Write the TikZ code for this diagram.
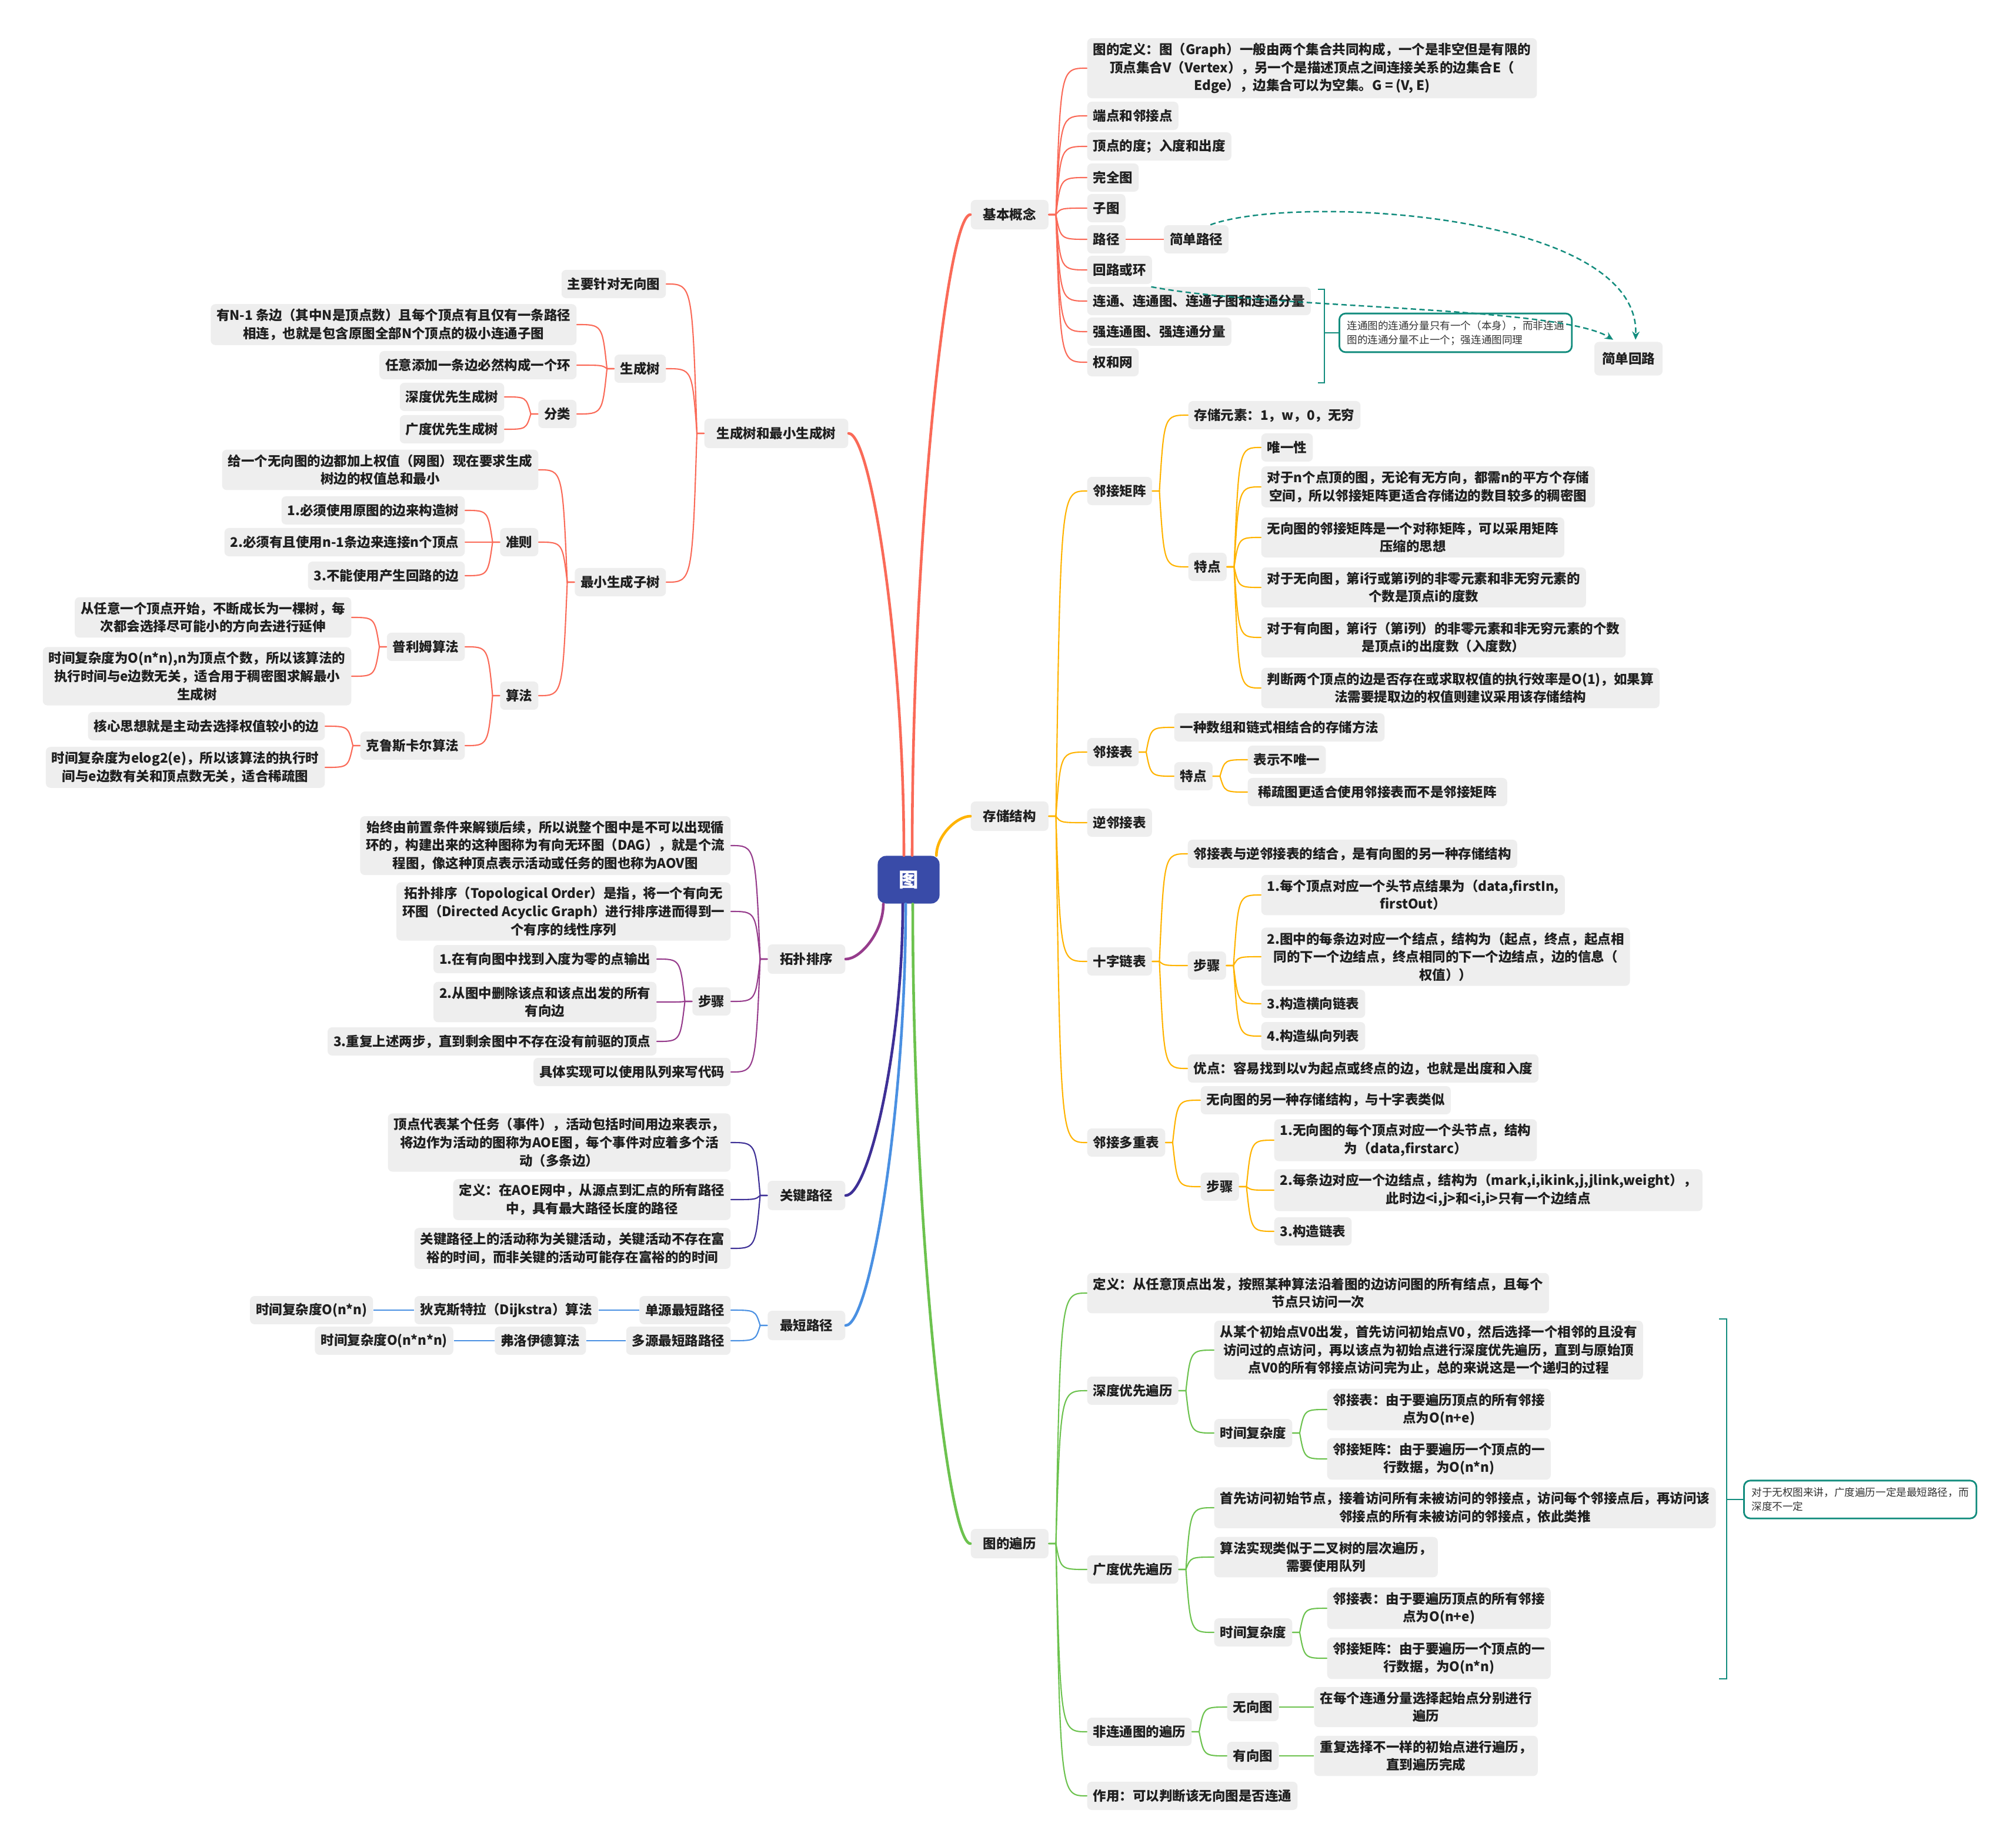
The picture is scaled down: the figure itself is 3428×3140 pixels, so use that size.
\documentclass[tikz,border=0pt]{standalone}
\usepackage{fontspec}
\setmainfont{Noto Sans CJK SC}
\usepackage{xcolor}
\usetikzlibrary{arrows.meta, positioning, calc}

\definecolor{cRed}{RGB}{250,106,88}
\definecolor{cYel}{RGB}{255,179,0}
\definecolor{cGrn}{RGB}{108,194,78}
\definecolor{cPur}{RGB}{150,60,140}
\definecolor{cInd}{RGB}{62,48,150}
\definecolor{cBlu}{RGB}{74,144,226}
\definecolor{cHub}{RGB}{57,75,168}
\definecolor{cTeal}{RGB}{18,140,125}
\definecolor{nodegray}{RGB}{238,238,238}

\tikzset{
  topic/.style  = {rectangle, rounded corners=2.2pt, fill=nodegray,
                   inner xsep=0.1cm, inner ysep=0.08cm, minimum height=0.48cm,
                   align=center, text=black!88,
                   font=\bfseries\fontsize{6.4}{8.7}\selectfont},
  mtopic/.style = {topic, inner xsep=0.21cm, minimum height=0.5cm},
  rt/.style     = {topic, anchor=west},
  lt/.style     = {topic, anchor=east},
  hub/.style    = {rectangle, rounded corners=4pt, fill=cHub, text=white,
                   minimum width=1.05cm, minimum height=0.81cm,
                   font=\bfseries\fontsize{9.5}{11}\selectfont},
  note/.style   = {rectangle, rounded corners=3pt, draw=cTeal, line width=0.8pt,
                   fill=white, align=left, inner xsep=0.13cm, inner ysep=0.12cm,
                   text=black!80, font=\fontsize{5}{6.8}\selectfont},
}

\begin{document}
\begin{tikzpicture}[
  x=0.01cm, y=-0.01cm,
  rlink/.style={line width=0.6pt, line cap=round,
    to path={-- ++(12,0) coordinate (tq)
      .. controls ($(tq |- \tikztotarget)+(8,0)$) .. (\tikztotarget)}},
  llink/.style={line width=0.6pt, line cap=round,
    to path={-- ++(-12,0) coordinate (tq)
      .. controls ($(tq |- \tikztotarget)+(-8,0)$) .. (\tikztotarget)}},
  trunk/.style={line width=1.3pt, line cap=round,
    to path={.. controls ($(\tikztostart)!0.5!(\tikztostart |- \tikztotarget)$)
      and ($(\tikztostart |- \tikztotarget)!0.6!(\tikztotarget)$) .. (\tikztotarget)}},
  lnk/.style={line width=0.6pt},
  dashln/.style={cTeal, line width=0.7pt, dash pattern=on 2.6pt off 1.6pt,
                 -{Stealth[length=4pt, width=3.6pt]}},
]
  \useasboundingbox (0,0) rectangle (3428,3140);

  % centre
  \node[hub] (tu) at (1545,1496) {图};
  \coordinate (tA) at ($(tu.north)+(6,0)$);
  \coordinate (tB) at ($(tu.north)+(-8,0)$);
  \coordinate (tC) at ($(tu.north east)+(-6,0)$);
  \coordinate (tD) at ($(tu.south)+(7,0)$);
  \coordinate (tE) at ($(tu.south)+(-5,0)$);
  \coordinate (tF) at ($(tu.south)+(-10,0)$);
  \coordinate (tG) at ($(tu.south)+(-43,0)$);

  % basic concepts
  \node[mtopic, anchor=west] (jb) at (1650,365) {基本概念};
  \node[rt] (jb1) at (1848,116) {图的定义：图（Graph）一般由两个集合共同构成，一个是非空但是有限的\\顶点集合V（Vertex），另一个是描述顶点之间连接关系的边集合E（\\Edge），边集合可以为空集。G = (V, E)};
  \node[rt] (jb2) at (1848,197) {端点和邻接点};
  \node[rt] (jb3) at (1848,249) {顶点的度；入度和出度};
  \node[rt] (jb4) at (1848,302) {完全图};
  \node[rt] (jb5) at (1848,354) {子图};
  \node[rt] (jb6) at (1848,407) {路径};
  \node[topic, right=0.64cm of jb6] (jb6a) {简单路径};
  \node[rt] (jb7) at (1848,459) {回路或环};
  \node[rt] (jb8) at (1848,512) {连通、连通图、连通子图和连通分量};
  \node[rt] (jb9) at (1848,564) {强连通图、强连通分量};
  \node[rt] (jb10) at (1848,616) {权和网};
  \node[mtopic, inner xsep=0.13cm, minimum height=0.57cm] (jbhl) at (2769,610) {简单回路};
  \node[note, anchor=west] (nt1) at (2276,566) {连通图的连通分量只有一个（本身），而非连通\\图的连通分量不止一个；强连通图同理};

  % storage
  \node[mtopic, anchor=west] (cc) at (1650,1388) {存储结构};
  \node[rt] (cc1) at (1848,835) {邻接矩阵};
  \node[rt] (cc11) at (2020,706) {存储元素：1，w，0，无穷};
  \node[rt] (cc12) at (2020,964) {特点};
  \node[rt] (cc121) at (2144,761) {唯一性};
  \node[rt] (cc122) at (2144,828) {对于n个点顶的图，无论有无方向，都需n的平方个存储\\空间，所以邻接矩阵更适合存储边的数目较多的稠密图};
  \node[rt] (cc123) at (2144,914) {无向图的邻接矩阵是一个对称矩阵，可以采用矩阵\\压缩的思想};
  \node[rt] (cc124) at (2144,999) {对于无向图，第i行或第i列的非零元素和非无穷元素的\\个数是顶点i的度数};
  \node[rt] (cc125) at (2144,1084) {对于有向图，第i行（第i列）的非零元素和非无穷元素的个数\\是顶点i的出度数（入度数）};
  \node[rt] (cc126) at (2144,1170) {判断两个顶点的边是否存在或求取权值的执行效率是O(1)，如果算\\法需要提取边的权值则建议采用该存储结构};
  \node[rt] (cc2) at (1848,1279) {邻接表};
  \node[rt] (cc21) at (1996,1237) {一种数组和链式相结合的存储方法};
  \node[rt] (cc22) at (1996,1320) {特点};
  \node[rt] (cc221) at (2121,1292) {表示不唯一};
  \node[rt, inner xsep=0.18cm] (cc222) at (2121,1347) {稀疏图更适合使用邻接表而不是邻接矩阵};
  \node[rt] (cc3) at (1848,1399) {逆邻接表};
  \node[rt] (cc4) at (1848,1635) {十字链表};
  \node[rt] (cc41) at (2019,1452) {邻接表与逆邻接表的结合，是有向图的另一种存储结构};
  \node[rt] (cc42) at (2019,1642) {步骤};
  \node[rt] (cc421) at (2144,1522) {1.每个顶点对应一个头节点结果为（data,firstIn,\\firstOut）};
  \node[rt] (cc422) at (2144,1627) {2.图中的每条边对应一个结点，结构为（起点，终点，起点相\\同的下一个边结点，终点相同的下一个边结点，边的信息（\\权值））};
  \node[rt] (cc423) at (2144,1707) {3.构造横向链表};
  \node[rt] (cc424) at (2144,1762) {4.构造纵向列表};
  \node[rt] (cc43) at (2019,1817) {优点：容易找到以v为起点或终点的边，也就是出度和入度};
  \node[rt] (cc5) at (1848,1943) {邻接多重表};
  \node[rt] (cc51) at (2041,1871) {无向图的另一种存储结构，与十字表类似};
  \node[rt] (cc52) at (2041,2018) {步骤};
  \node[rt] (cc521) at (2166,1939) {1.无向图的每个顶点对应一个头节点，结构\\为（data,firstarc）};
  \node[rt] (cc522) at (2166,2024) {2.每条边对应一个边结点，结构为（mark,i,ikink,j,jlink,weight），\\此时边<i,j>和<i,i>只有一个边结点};
  \node[rt] (cc523) at (2166,2094) {3.构造链表};

  % traversal
  \node[mtopic, anchor=west] (bl) at (1650,2625) {图的遍历};
  \node[rt] (bl1) at (1848,2199) {定义：从任意顶点出发，按照某种算法沿着图的边访问图的所有结点，且每个\\节点只访问一次};
  \node[rt] (bl2) at (1848,2365) {深度优先遍历};
  \node[rt] (bl21) at (2064,2296) {从某个初始点V0出发，首先访问初始点V0，然后选择一个相邻的且没有\\访问过的点访问，再以该点为初始点进行深度优先遍历，直到与原始顶\\点V0的所有邻接点访问完为止，总的来说这是一个递归的过程};
  \node[rt] (bl22) at (2064,2437) {时间复杂度};
  \node[rt] (bl221) at (2256,2397) {邻接表：由于要遍历顶点的所有邻接\\点为O(n+e)};
  \node[rt] (bl222) at (2256,2481) {邻接矩阵：由于要遍历一个顶点的一\\行数据，为O(n*n)};
  \node[rt] (bl3) at (1848,2669) {广度优先遍历};
  \node[rt] (bl31) at (2064,2564) {首先访问初始节点，接着访问所有未被访问的邻接点，访问每个邻接点后，再访问该\\邻接点的所有未被访问的邻接点，依此类推};
  \node[rt] (bl32) at (2064,2648) {算法实现类似于二叉树的层次遍历，\\需要使用队列};
  \node[rt] (bl33) at (2064,2776) {时间复杂度};
  \node[rt] (bl331) at (2256,2735) {邻接表：由于要遍历顶点的所有邻接\\点为O(n+e)};
  \node[rt] (bl332) at (2256,2820) {邻接矩阵：由于要遍历一个顶点的一\\行数据，为O(n*n)};
  \node[rt] (bl4) at (1848,2945) {非连通图的遍历};
  \node[rt] (bl41) at (2086,2903) {无向图};
  \node[rt] (bl411) at (2234,2903) {在每个连通分量选择起始点分别进行\\遍历};
  \node[rt] (bl42) at (2086,2986) {有向图};
  \node[rt] (bl421) at (2234,2986) {重复选择不一样的初始点进行遍历，\\直到遍历完成};
  \node[rt] (bl5) at (1848,3054) {作用：可以判断该无向图是否连通};
  \node[note, anchor=west] (nt2) at (2964,2550) {对于无权图来讲，广度遍历一定是最短路径，而\\深度不一定};

  % spanning trees
  \node[mtopic, anchor=east] (sc) at (1443,737) {生成树和最小生成树};
  \node[lt] (sc1) at (1133,483) {主要针对无向图};
  \node[lt] (sc2) at (1133,627) {生成树};
  \node[lt] (sc21) at (981,552) {有N-1 条边（其中N是顶点数）且每个顶点有且仅有一条路径\\相连，也就是包含原图全部N个顶点的极小连通子图};
  \node[lt] (sc22) at (981,621) {任意添加一条边必然构成一个环};
  \node[lt] (sc23) at (981,704) {分类};
  \node[lt] (sc231) at (858,675) {深度优先生成树};
  \node[lt] (sc232) at (858,730) {广度优先生成树};
  \node[lt] (sc3) at (1133,990) {最小生成子树};
  \node[lt] (sc31) at (916,799) {给一个无向图的边都加上权值（网图）现在要求生成\\树边的权值总和最小};
  \node[lt] (sc32) at (916,922) {准则};
  \node[lt] (sc321) at (791,868) {1.必须使用原图的边来构造树};
  \node[lt] (sc322) at (791,922) {2.必须有且使用n-1条边来连接n个顶点};
  \node[lt] (sc323) at (791,979) {3.不能使用产生回路的边};
  \node[lt] (sc33) at (916,1183) {算法};
  \node[lt] (sc331) at (791,1100) {普利姆算法};
  \node[lt] (sc3311) at (598,1050) {从任意一个顶点开始，不断成长为一棵树，每\\次都会选择尽可能小的方向去进行延伸};
  \node[lt] (sc3312) at (598,1150) {时间复杂度为O(n*n),n为顶点个数，所以该算法的\\执行时间与e边数无关，适合用于稠密图求解最小\\生成树};
  \node[lt] (sc332) at (791,1268) {克鲁斯卡尔算法};
  \node[lt] (sc3321) at (553,1235) {核心思想就是主动去选择权值较小的边};
  \node[lt] (sc3322) at (553,1305) {时间复杂度为elog2(e)，所以该算法的执行时\\间与e边数有关和顶点数无关，适合稀疏图};

  % topological order
  \node[mtopic, anchor=east] (tp) at (1438,1631) {拓扑排序};
  \node[lt] (tp1) at (1243,1438) {始终由前置条件来解锁后续，所以说整个图中是不可以出现循\\环的，构建出来的这种图称为有向无环图（DAG），就是个流\\程图，像这种顶点表示活动或任务的图也称为AOV图};
  \node[lt] (tp2) at (1243,1550) {拓扑排序（Topological Order）是指，将一个有向无\\环图（Directed Acyclic Graph）进行排序进而得到一\\个有序的线性序列};
  \node[lt] (tp3) at (1243,1703) {步骤};
  \node[lt] (tp31) at (1117,1631) {1.在有向图中找到入度为零的点输出};
  \node[lt] (tp32) at (1117,1704) {2.从图中删除该点和该点出发的所有\\有向边};
  \node[lt] (tp33) at (1117,1771) {3.重复上述两步，直到剩余图中不存在没有前驱的顶点};
  \node[lt] (tp4) at (1243,1823) {具体实现可以使用队列来写代码};

  % critical path
  \node[mtopic, anchor=east] (gj) at (1438,2033) {关键路径};
  \node[lt] (gj1) at (1243,1943) {顶点代表某个任务（事件），活动包括时间用边来表示，\\将边作为活动的图称为AOE图，每个事件对应着多个活\\动（多条边）};
  \node[lt] (gj2) at (1243,2040) {定义：在AOE网中，从源点到汇点的所有路径\\中，具有最大路径长度的路径};
  \node[lt] (gj3) at (1243,2123) {关键路径上的活动称为关键活动，关键活动不存在富\\裕的时间，而非关键的活动可能存在富裕的的时间};

  % shortest path
  \node[mtopic, anchor=east] (zd) at (1438,2254) {最短路径};
  \node[lt] (zd1) at (1243,2228) {单源最短路径};
  \node[lt, left=0.69cm of zd1] (zd11) {狄克斯特拉（Dijkstra）算法};
  \node[lt, left=0.69cm of zd11] (zd111) {时间复杂度O(n*n)};
  \node[lt] (zd2) at (1243,2280) {多源最短路路径};
  \node[lt, left=0.67cm of zd2] (zd21) {弗洛伊德算法};
  \node[lt, left=0.69cm of zd21] (zd211) {时间复杂度O(n*n*n)};

  % trunks
  \draw[trunk, cRed] (tA) to (jb.west);
  \draw[trunk, cRed] (tB) to (sc.east);
  \draw[trunk, cYel] (tC) to (cc.west);
  \draw[trunk, cGrn] (tD) to (bl.west);
  \draw[trunk, cBlu] (tE) to (zd.east);
  \draw[trunk, cInd] (tF) to (gj.east);
  \draw[trunk, cPur] (tG) to (tp.east);

  % basic concepts links
  \draw[rlink, cRed] (jb.east) to (jb1.west);
  \draw[rlink, cRed] (jb.east) to (jb2.west);
  \draw[rlink, cRed] (jb.east) to (jb3.west);
  \draw[rlink, cRed] (jb.east) to (jb4.west);
  \draw[rlink, cRed] (jb.east) to (jb5.west);
  \draw[rlink, cRed] (jb.east) to (jb6.west);
  \draw[rlink, cRed] (jb.east) to (jb7.west);
  \draw[rlink, cRed] (jb.east) to (jb8.west);
  \draw[rlink, cRed] (jb.east) to (jb9.west);
  \draw[rlink, cRed] (jb.east) to (jb10.west);
  \draw[lnk, cRed] (jb6.east) -- (jb6a.west);

  % summary brackets
  \coordinate (bk1) at (2252,566);
  \draw[cTeal, line width=0.7pt] (2241,492) -- (2252,492) -- (2252,651) -- (2241,651);
  \draw[cTeal, line width=0.7pt] (bk1) -- (nt1.west);
  \coordinate (bk2) at (2936,2550);
  \draw[cTeal, line width=0.7pt] (2923,2243) -- (2936,2243) -- (2936,2855) -- (2923,2855);
  \draw[cTeal, line width=0.7pt] (bk2) -- (nt2.west);

  % relations
  \draw[dashln] ($(jb6a.north)+(24,0)$) .. controls (2200,330) and (2790,360) .. ($(jbhl.north)+(12,-3)$);
  \draw[dashln] ($(jb7.south east)+(-2,4)$) .. controls (2150,525) and (2650,520) .. ($(jbhl.north)+(-26,-3)$);

  % storage links
  \draw[rlink, cYel] (cc.east) to (cc1.west);
  \draw[rlink, cYel] (cc.east) to (cc2.west);
  \draw[rlink, cYel] (cc.east) to (cc3.west);
  \draw[rlink, cYel] (cc.east) to (cc4.west);
  \draw[rlink, cYel] (cc.east) to (cc5.west);
  \draw[rlink, cYel] (cc1.east) to (cc11.west);
  \draw[rlink, cYel] (cc1.east) to (cc12.west);
  \draw[rlink, cYel] (cc12.east) to (cc121.west);
  \draw[rlink, cYel] (cc12.east) to (cc122.west);
  \draw[rlink, cYel] (cc12.east) to (cc123.west);
  \draw[rlink, cYel] (cc12.east) to (cc124.west);
  \draw[rlink, cYel] (cc12.east) to (cc125.west);
  \draw[rlink, cYel] (cc12.east) to (cc126.west);
  \draw[rlink, cYel] (cc2.east) to (cc21.west);
  \draw[rlink, cYel] (cc2.east) to (cc22.west);
  \draw[rlink, cYel] (cc22.east) to (cc221.west);
  \draw[rlink, cYel] (cc22.east) to (cc222.west);
  \draw[rlink, cYel] (cc4.east) to (cc41.west);
  \draw[rlink, cYel] (cc4.east) to (cc42.west);
  \draw[rlink, cYel] (cc4.east) to (cc43.west);
  \draw[rlink, cYel] (cc42.east) to (cc421.west);
  \draw[rlink, cYel] (cc42.east) to (cc422.west);
  \draw[rlink, cYel] (cc42.east) to (cc423.west);
  \draw[rlink, cYel] (cc42.east) to (cc424.west);
  \draw[rlink, cYel] (cc5.east) to (cc51.west);
  \draw[rlink, cYel] (cc5.east) to (cc52.west);
  \draw[rlink, cYel] (cc52.east) to (cc521.west);
  \draw[rlink, cYel] (cc52.east) to (cc522.west);
  \draw[rlink, cYel] (cc52.east) to (cc523.west);

  % traversal links
  \draw[rlink, cGrn] (bl.east) to (bl1.west);
  \draw[rlink, cGrn] (bl.east) to (bl2.west);
  \draw[rlink, cGrn] (bl.east) to (bl3.west);
  \draw[rlink, cGrn] (bl.east) to (bl4.west);
  \draw[rlink, cGrn] (bl.east) to (bl5.west);
  \draw[rlink, cGrn] (bl2.east) to (bl21.west);
  \draw[rlink, cGrn] (bl2.east) to (bl22.west);
  \draw[rlink, cGrn] (bl22.east) to (bl221.west);
  \draw[rlink, cGrn] (bl22.east) to (bl222.west);
  \draw[rlink, cGrn] (bl3.east) to (bl31.west);
  \draw[rlink, cGrn] (bl3.east) to (bl32.west);
  \draw[rlink, cGrn] (bl3.east) to (bl33.west);
  \draw[rlink, cGrn] (bl33.east) to (bl331.west);
  \draw[rlink, cGrn] (bl33.east) to (bl332.west);
  \draw[rlink, cGrn] (bl4.east) to (bl41.west);
  \draw[rlink, cGrn] (bl4.east) to (bl42.west);
  \draw[lnk, cGrn] (bl41.east) -- (bl411.west);
  \draw[lnk, cGrn] (bl42.east) -- (bl421.west);

  % spanning tree links
  \draw[llink, cRed] (sc.west) to (sc1.east);
  \draw[llink, cRed] (sc.west) to (sc2.east);
  \draw[llink, cRed] (sc.west) to (sc3.east);
  \draw[llink, cRed] (sc2.west) to (sc21.east);
  \draw[llink, cRed] (sc2.west) to (sc22.east);
  \draw[llink, cRed] (sc2.west) to (sc23.east);
  \draw[llink, cRed] (sc23.west) to (sc231.east);
  \draw[llink, cRed] (sc23.west) to (sc232.east);
  \draw[llink, cRed] (sc3.west) to (sc31.east);
  \draw[llink, cRed] (sc3.west) to (sc32.east);
  \draw[llink, cRed] (sc3.west) to (sc33.east);
  \draw[llink, cRed] (sc32.west) to (sc321.east);
  \draw[llink, cRed] (sc32.west) to (sc322.east);
  \draw[llink, cRed] (sc32.west) to (sc323.east);
  \draw[llink, cRed] (sc33.west) to (sc331.east);
  \draw[llink, cRed] (sc33.west) to (sc332.east);
  \draw[llink, cRed] (sc331.west) to (sc3311.east);
  \draw[llink, cRed] (sc331.west) to (sc3312.east);
  \draw[llink, cRed] (sc332.west) to (sc3321.east);
  \draw[llink, cRed] (sc332.west) to (sc3322.east);

  % topological order links
  \draw[llink, cPur] (tp.west) to (tp1.east);
  \draw[llink, cPur] (tp.west) to (tp2.east);
  \draw[llink, cPur] (tp.west) to (tp3.east);
  \draw[llink, cPur] (tp.west) to (tp4.east);
  \draw[llink, cPur] (tp3.west) to (tp31.east);
  \draw[llink, cPur] (tp3.west) to (tp32.east);
  \draw[llink, cPur] (tp3.west) to (tp33.east);

  % critical path links
  \draw[llink, cInd] (gj.west) to (gj1.east);
  \draw[llink, cInd] (gj.west) to (gj2.east);
  \draw[llink, cInd] (gj.west) to (gj3.east);

  % shortest path links
  \draw[llink, cBlu] (zd.west) to (zd1.east);
  \draw[llink, cBlu] (zd.west) to (zd2.east);
  \draw[lnk, cBlu] (zd1.west) -- (zd11.east);
  \draw[lnk, cBlu] (zd11.west) -- (zd111.east);
  \draw[lnk, cBlu] (zd2.west) -- (zd21.east);
  \draw[lnk, cBlu] (zd21.west) -- (zd211.east);
\end{tikzpicture}
\end{document}
